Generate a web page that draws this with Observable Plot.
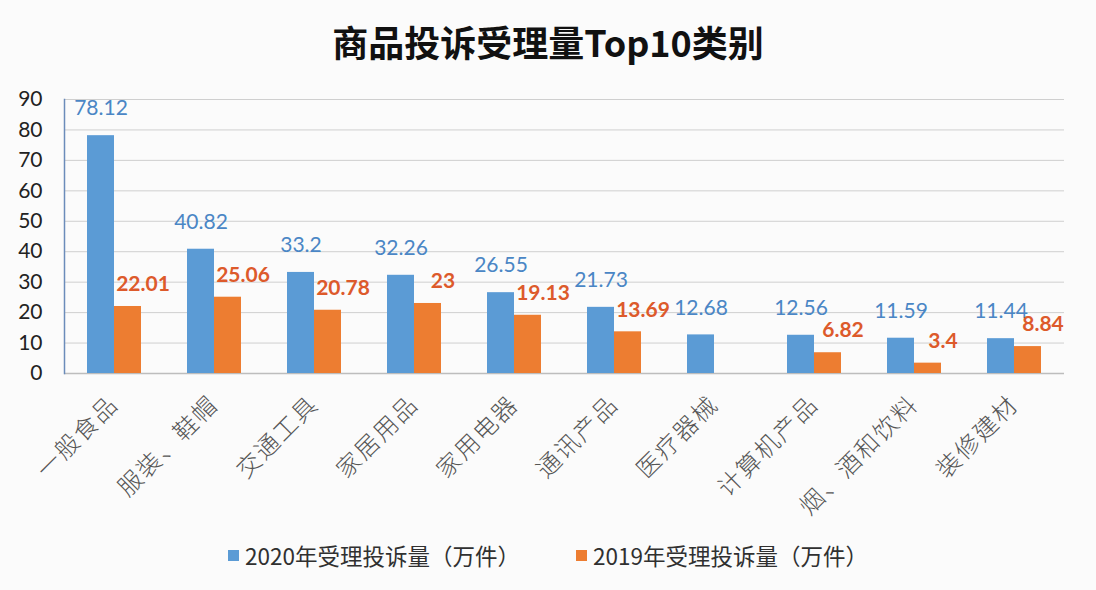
<!DOCTYPE html>
<html>
<head>
<meta charset="utf-8">
<script src="https://cdn.jsdelivr.net/npm/d3@7"></script>
<script src="https://cdn.jsdelivr.net/npm/@observablehq/plot@0.6"></script>
<style>
  html, body { margin: 0; padding: 0; background: #fbfbfb; }
  #wrap { width: 1096px; height: 590px; position: relative; overflow: hidden; }
  #title { height: 80px; line-height: 82px; text-align: center; font-family: "Noto Sans CJK SC", sans-serif; font-weight: bold; font-size: 36px; color: #111; }
  #legend { height: 50px; display: flex; align-items: center; justify-content: center; font-family: "Noto Sans CJK SC", sans-serif; font-size: 22.5px; color: #303030; }
  .item { display: flex; align-items: center; }
  .sw { width: 11px; height: 11px; margin-right: 6px; }
  svg { display: block; }
  g[aria-label="fx-axis tick label"] text { letter-spacing: 2px; }
</style>
</head>
<body>
<div id="wrap">
  <div id="title">商品投诉受理量Top10类别</div>
  <div id="chart"></div>
  <div id="legend"></div>
</div>
<script>
const categories = ["一般食品", "服装、鞋帽", "交通工具", "家居用品", "家用电器", "通讯产品", "医疗器械", "计算机产品", "烟、酒和饮料", "装修建材"];
const seriesNames = ["2020年受理投诉量（万件）", "2019年受理投诉量（万件）"];
const values2020 = [78.12, 40.82, 33.2, 32.26, 26.55, 21.73, 12.68, 12.56, 11.59, 11.44];
const values2019 = [22.01, 25.06, 20.78, 23, 19.13, 13.69, null, 6.82, 3.4, 8.84];
const yTicks = [0, 10, 20, 30, 40, 50, 60, 70, 80, 90];

const colors = ["#5b9bd5", "#ed7d31"];
const labelColors = ["#4a86c5", "#dd5a2b"];

const rows2020 = categories.map((c, i) => ({cat: c, series: seriesNames[0], value: values2020[i]}));
const rows2019 = categories.map((c, i) => ({cat: c, series: seriesNames[1], value: values2019[i]})).filter(d => d.value != null);
const rows = rows2020.concat(rows2019);

const chart = Plot.plot({
  width: 1096,
  height: 450,
  marginTop: 19,
  marginLeft: 61,
  marginRight: 29,
  marginBottom: 157,
  style: {background: "transparent", fontFamily: "Lato, 'Noto Sans', sans-serif"},
  fx: {domain: categories, padding: 0},
  x: {domain: seriesNames, paddingInner: 0, paddingOuter: 0.8, axis: null},
  y: {domain: [0, 90]},
  color: {domain: seriesNames, range: colors},
  marks: [
    Plot.gridY(yTicks, {stroke: "#cfcfcf", strokeOpacity: 1, strokeWidth: 1}),
    Plot.ruleY([0], {stroke: "#bdbdbd", strokeWidth: 1.5}),
    Plot.barY(rows, {fx: "cat", x: "series", y: "value", fill: "series"}),
    Plot.text(rows2020, {fx: "cat", x: "series", y: "value", text: d => String(d.value), dy: -27, fill: labelColors[0], fontSize: 21}),
    Plot.text(rows2019, {fx: "cat", x: "series", y: "value", text: d => String(d.value), dy: -22, dx: 15, fill: labelColors[1], fontSize: 21, fontWeight: "bold"}),
    Plot.frame({anchor: "left", facetAnchor: "left", stroke: "#6b8cba", strokeWidth: 1.5}),
    Plot.axisY(yTicks, {tickSize: 0, tickPadding: 22, fontSize: 21, fill: "#222", label: null}),
    Plot.axisFx({anchor: "bottom", tickRotate: -45, tickSize: 0, tickPadding: 27, dx: 0, fontSize: 24, fill: "#555", label: null, fontFamily: "'Noto Sans CJK SC', sans-serif", fontWeight: 300})
  ]
});
document.getElementById("chart").appendChild(chart);

const legend = document.getElementById("legend");
seriesNames.forEach((name, i) => {
  const item = document.createElement("div");
  item.className = "item";
  if (i > 0) item.style.marginLeft = "56px";
  const sw = document.createElement("div");
  sw.className = "sw";
  sw.style.background = colors[i];
  const t = document.createElement("span");
  t.textContent = name;
  item.appendChild(sw);
  item.appendChild(t);
  legend.appendChild(item);
});
</script>
</body>
</html>
